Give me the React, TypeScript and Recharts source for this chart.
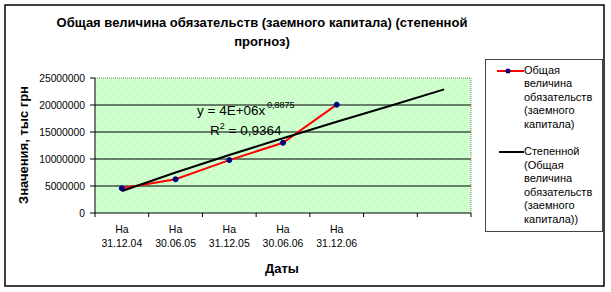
import React from "react";
import {
  ComposedChart,
  Line,
  XAxis,
  YAxis,
  CartesianGrid,
  ReferenceLine,
  Legend,
  Customized,
} from "recharts";

const categories = [
  "На 31.12.04",
  "На 30.06.05",
  "На 31.12.05",
  "На 30.06.06",
  "На 31.12.06",
  "",
  "",
];
const liabilities = [4570000, 6240000, 9800000, 13000000, 20060000];
const trendValues = [4060000, 7500000, 10750000, 13850000, 16900000, 19850000, 22900000];
const yTicks = [0, 5000000, 10000000, 15000000, 20000000, 25000000];
const gridValues = [5000000, 10000000, 15000000, 20000000];

const seriesName = "Общая величина обязательств (заемного капитала)";
const trendName = "Степенной (Общая величина обязательств (заемного капитала))";
const titleLines = ["Общая величина обязательств (заемного капитала) (степенной", "прогноз)"];
const xTitle = "Даты";
const yTitle = "Значения, тыс грн";
const equation = "y = 4E+06x";
const equationExp = "0,8875";
const r2Value = " = 0,9364";

const data = categories.map((c, i) => ({
  x: i + 1,
  label: c,
  liab: i < liabilities.length ? liabilities[i] : undefined,
  trend: trendValues[i],
}));

const FONT = "Arial, 'Liberation Sans', sans-serif";

const Overlay = () => (
  <g fontFamily={FONT} fill="#000">
    <rect x={5} y={5} width={599} height={281} fill="none" stroke="#000" strokeWidth={1.5} />
    <text x={262} y={27} textAnchor="middle" fontSize={13} fontWeight="bold">
      {titleLines[0]}
    </text>
    <text x={262} y={46} textAnchor="middle" fontSize={13} fontWeight="bold">
      {titleLines[1]}
    </text>
    <text x={282} y={273} textAnchor="middle" fontSize={13} fontWeight="bold">
      {xTitle}
    </text>
    <text
      x={28}
      y={145}
      textAnchor="middle"
      fontSize={13}
      fontWeight="bold"
      transform="rotate(-90 28 145)"
    >
      {yTitle}
    </text>
    <text x={197} y={115} fontSize={13.5}>
      {equation}
    </text>
    <text x={267} y={108} fontSize={9}>
      {equationExp}
    </text>
    <text x={210} y={135} fontSize={13.5}>
      R<tspan dy={-6} fontSize={9}>2</tspan>
      <tspan dy={6}>{r2Value}</tspan>
    </text>
  </g>
);

const LegendBox = () => {
  const textStyle: React.CSSProperties = {
    position: "absolute",
    left: 38,
    width: 76,
    fontFamily: FONT,
    fontSize: 11,
    lineHeight: "13.6px",
    color: "#000",
    textAlign: "left",
  };
  return (
    <div
      style={{
        position: "relative",
        width: 118,
        height: 173,
        border: "1px solid #444",
        boxSizing: "border-box",
        background: "#fff",
      }}
    >
      <svg width={40} height={173} style={{ position: "absolute", left: 0, top: 0 }}>
        <line x1={11} y1={11} x2={38} y2={11} stroke="#ff0000" strokeWidth={2} />
        <circle cx={22} cy={11} r={2.5} fill="#000080" />
        <line x1={13} y1={92} x2={38} y2={92} stroke="#000" strokeWidth={2} />
      </svg>
      <div style={{ ...textStyle, top: 3.5 }}>{seriesName}</div>
      <div style={{ ...textStyle, top: 85 }}>{trendName}</div>
    </div>
  );
};

const LabelTick = (props: any) => {
  const { x, y, payload } = props;
  const txt = categories[payload.value - 1] || "";
  if (!txt) return null;
  const idx = txt.indexOf(" ");
  const a = txt.slice(0, idx);
  const b = txt.slice(idx + 1);
  return (
    <text x={x} y={y} textAnchor="middle" fontSize={10.5} fontFamily={FONT} fill="#000">
      <tspan x={x} dy={14}>{a}</tspan>
      <tspan x={x} dy={14}>{b}</tspan>
    </text>
  );
};

export default function App() {
  return (
    <div style={{ position: "absolute", left: 0, top: 0, width: 611, height: 292, background: "#fff" }}>
      <svg width={0} height={0} style={{ position: "absolute" }}>
        <defs>
          <pattern id="dotpat" width={8} height={8} patternUnits="userSpaceOnUse">
            <rect width={8} height={8} fill="#ccffcc" />
            <rect x={1} y={1} width={1} height={1} fill="#ffffff" />
            <rect x={5} y={5} width={1} height={1} fill="#ffffff" />
            <rect x={5} y={1} width={1} height={1} fill="#b8f0b8" />
            <rect x={1} y={5} width={1} height={1} fill="#b8f0b8" />
          </pattern>
        </defs>
      </svg>
      <ComposedChart
        width={611}
        height={292}
        data={data}
        margin={{ top: 78, right: 140, bottom: 23, left: 0 }}
      >
        <CartesianGrid
          xAxisId="a"
          vertical={false}
          horizontalValues={gridValues}
          stroke="#000"
          strokeWidth={1}
          fill="url(#dotpat)"
          fillOpacity={1}
        />
        <XAxis
          xAxisId="a"
          type="number"
          dataKey="x"
          domain={[0.5, 7.5]}
          ticks={[0.5, 1.5, 2.5, 3.5, 4.5, 5.5, 6.5, 7.5]}
          tickFormatter={() => ""}
          height={6}
          tickSize={4}
          axisLine={{ stroke: "#000" }}
          tickLine={{ stroke: "#000" }}
          allowDecimals
        />
        <XAxis
          xAxisId="b"
          type="number"
          dataKey="x"
          domain={[0.5, 7.5]}
          ticks={[1, 2, 3, 4, 5, 6, 7]}
          tick={<LabelTick />}
          height={50}
          tickSize={0}
          tickMargin={0}
          axisLine={false}
          tickLine={false}
        />
        <YAxis
          type="number"
          domain={[0, 25000000]}
          ticks={yTicks}
          width={95}
          tickSize={5}
          tickMargin={5}
          axisLine={{ stroke: "#000" }}
          tickLine={{ stroke: "#000" }}
          tick={{ fontSize: 10.3, fontFamily: FONT, fill: "#000" }}
          interval={0}
        />
        <ReferenceLine xAxisId="a" y={25000000} stroke="#808080" strokeDasharray="1 1" />
        <ReferenceLine xAxisId="a" x={7.5} stroke="#808080" strokeDasharray="1 1" />
        <Line
          xAxisId="a"
          type="linear"
          dataKey="liab"
          name={seriesName}
          stroke="#ff0000"
          strokeWidth={2}
          dot={{ r: 2.5, fill: "#000080", stroke: "#000080", strokeWidth: 1 }}
          isAnimationActive={false}
          connectNulls={false}
        />
        <Line
          xAxisId="a"
          type="monotone"
          dataKey="trend"
          name={trendName}
          stroke="#000"
          strokeWidth={2}
          dot={false}
          isAnimationActive={false}
        />
        <Legend
          layout="vertical"
          align="center"
          verticalAlign="middle"
          content={<LegendBox />}
          wrapperStyle={{ position: "absolute", left: 485, top: 59, width: 118, height: 173 }}
        />
        <Customized component={<Overlay />} />
      </ComposedChart>
    </div>
  );
}
